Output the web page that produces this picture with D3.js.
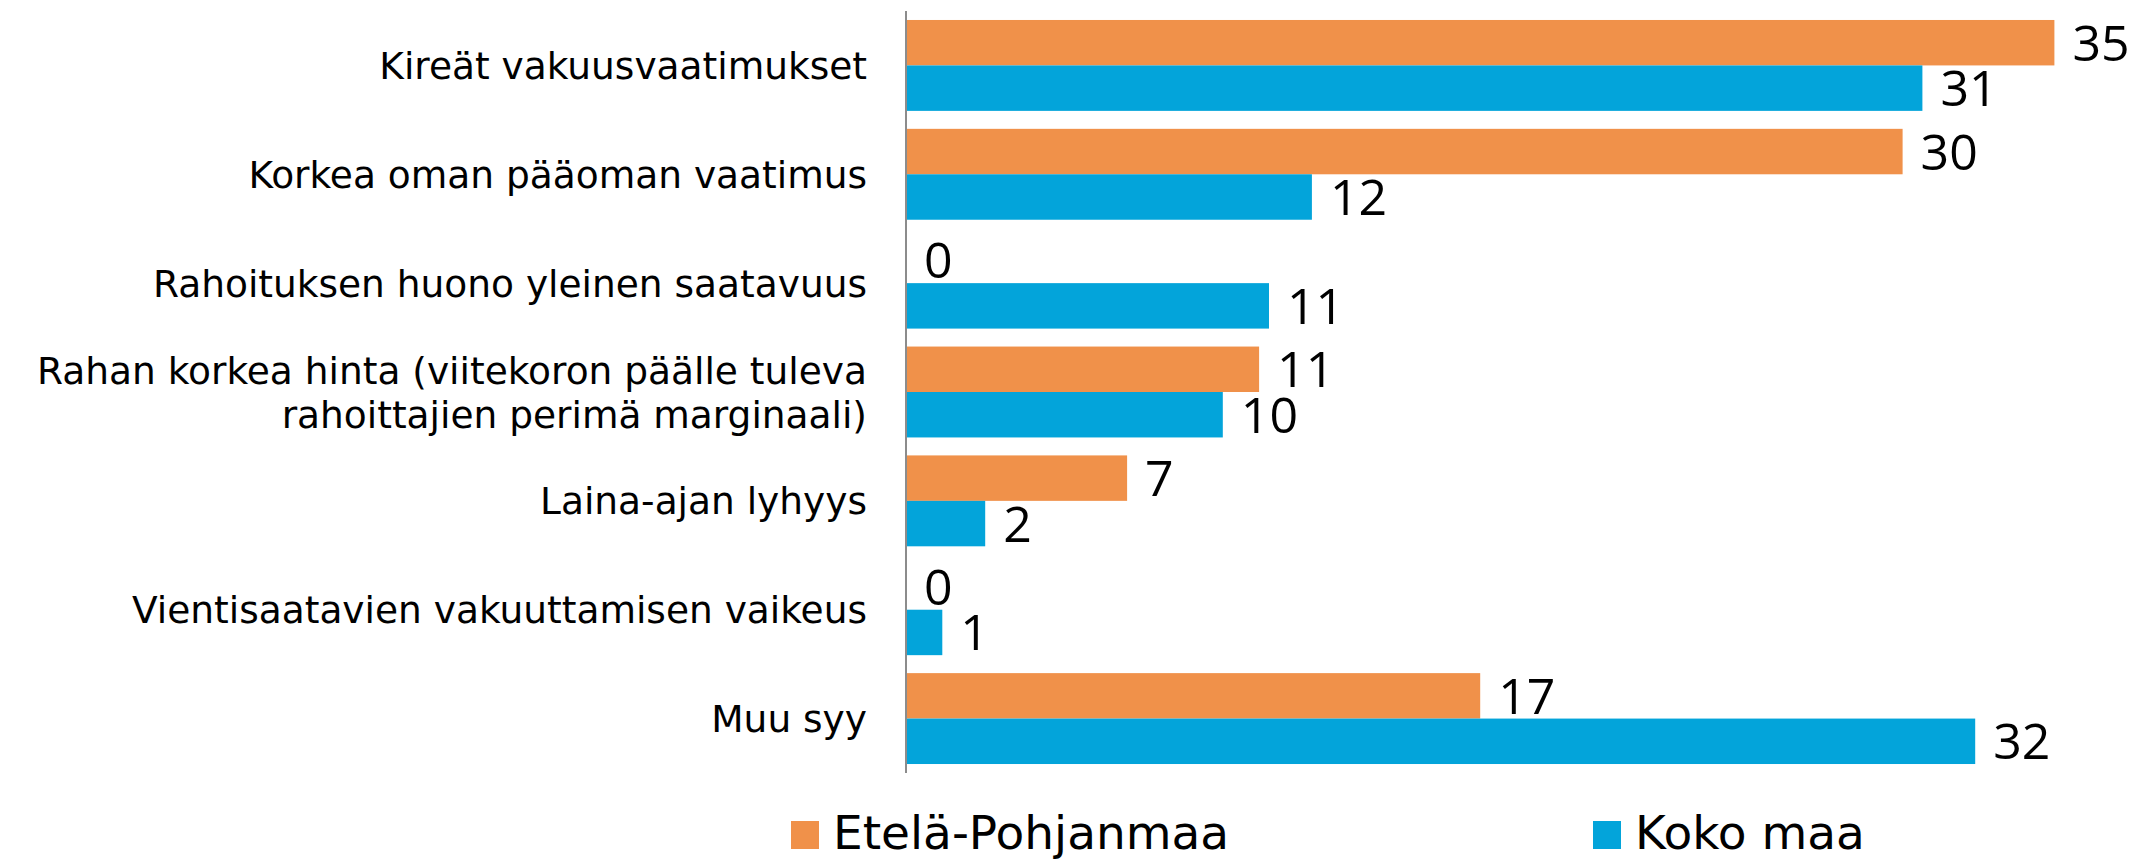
<!DOCTYPE html>
<html>
<head>
<meta charset="utf-8">
<script src="https://cdn.jsdelivr.net/npm/d3@7"></script>
<style>
  html, body { margin: 0; padding: 0; background: #ffffff; }
  svg { display: block; }
</style>
</head>
<body>
<script>
// ---- Data ----
const categories = [
  "Kireät vakuusvaatimukset",
  "Korkea oman pääoman vaatimus",
  "Rahoituksen huono yleinen saatavuus",
  "Rahan korkea hinta (viitekoron päälle tuleva rahoittajien perimä marginaali)",
  "Laina-ajan lyhyys",
  "Vientisaatavien vakuuttamisen vaikeus",
  "Muu syy"
];
const categoryLines = [
  ["Kireät vakuusvaatimukset"],
  ["Korkea oman pääoman vaatimus"],
  ["Rahoituksen huono yleinen saatavuus"],
  ["Rahan korkea hinta (viitekoron päälle tuleva", "rahoittajien perimä marginaali)"],
  ["Laina-ajan lyhyys"],
  ["Vientisaatavien vakuuttamisen vaikeus"],
  ["Muu syy"]
];
const seriesNames = ["Etelä-Pohjanmaa", "Koko maa"];
const etelaPohjanmaa = [34.8, 30.2, 0, 10.7, 6.7, 0, 17.4];
const kokoMaa = [30.8, 12.3, 11.0, 9.6, 2.4, 1.1, 32.4];
const seriesColors = ["#F0914A", "#03A4DA"];

// ---- Layout ----
const W = 2131, H = 859;
const svg = d3.select("body").append("svg").attr("width", W).attr("height", H);

const x = d3.scaleLinear().domain([0, 35]).range([906, 906 + 35 * 33]);
const y = d3.scaleBand().domain(categories).range([11, 773]).paddingInner(0.165).paddingOuter(0.0825);
const ySub = d3.scaleBand().domain([0, 1]).range([0, y.bandwidth()]);

const rows = categories.map((c, i) => ({ c, i, vals: [etelaPohjanmaa[i], kokoMaa[i]] }));

const groups = svg.append("g").selectAll("g.cat").data(rows).join("g")
  .attr("class", "cat")
  .attr("transform", d => `translate(0,${y(d.c)})`);

groups.selectAll("rect").data(d => d.vals.map((v, s) => ({ v, s }))).join("rect")
  .attr("x", x(0))
  .attr("y", d => ySub(d.s))
  .attr("width", d => x(d.v) - x(0))
  .attr("height", ySub.bandwidth())
  .attr("fill", d => seriesColors[d.s]);

groups.selectAll("text.val").data(d => d.vals.map((v, s) => ({ v, s }))).join("text")
  .attr("class", "val")
  .attr("x", d => x(d.v) + 18)
  .attr("y", d => ySub(d.s) + ySub.bandwidth() / 2)
  .attr("dy", "0.36em")
  .attr("font-family", "'Open Sans', sans-serif")
  .attr("font-size", 50)
  .attr("fill", "#000")
  .text(d => d3.format(".0f")(d.v));

// axis line (category axis)
const yAxis = d3.axisLeft(y).tickSize(0).tickFormat("");
const axG = svg.append("g").attr("transform", `translate(${x(0)},0)`).call(yAxis);
axG.select(".domain").attr("stroke", "#8c8c8c").attr("stroke-width", 2)
  .attr("d", `M0,11V773`);

// category labels
const catFont = "'DejaVu Sans', sans-serif";
const labG = svg.append("g");
const lineH = 44;
rows.forEach((d, i) => {
  const lines = categoryLines[i];
  const cy = y(d.c) + y.bandwidth() / 2;
  lines.forEach((ln, k) => {
    labG.append("text")
      .attr("class", "cat-label")
      .attr("x", 867)
      .attr("y", cy + (k - (lines.length - 1) / 2) * lineH)
      .attr("dy", "0.36em")
      .attr("text-anchor", "end")
      .attr("font-family", catFont)
      .attr("font-size", 37.5)
      .attr("fill", "#000")
      .text(ln);
  });
});

// legend
const legendX = [791, 1593];
const leg = svg.append("g").selectAll("g").data(seriesNames).join("g")
  .attr("transform", (d, i) => `translate(${legendX[i]},821)`);
leg.append("rect").attr("width", 28).attr("height", 28).attr("fill", (d, i) => seriesColors[i]);
leg.append("text").attr("x", 42).attr("y", 28)
  .attr("font-family", catFont).attr("font-size", 47).attr("fill", "#000")
  .text(d => d);
</script>
</body>
</html>
